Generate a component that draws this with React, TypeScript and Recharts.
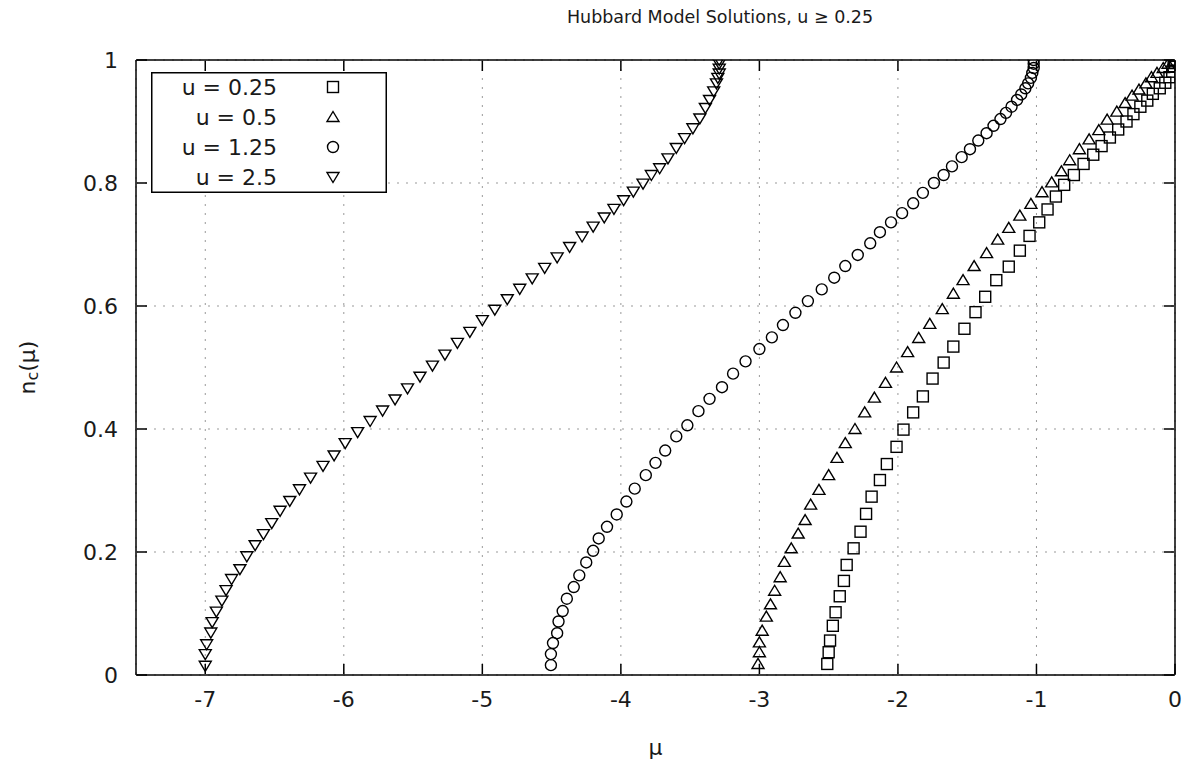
import React from 'react';
import { ScatterChart, Scatter, XAxis, YAxis, CartesianGrid, Legend } from 'recharts';

// ---------------------------------------------------------------------------
// Data: [mu, n_c] pairs
// ---------------------------------------------------------------------------

const U025: Array<[number, number]> = [
  [-2.51, 0.018], [-2.5, 0.037], [-2.49, 0.056], [-2.47, 0.08], [-2.45, 0.102],
  [-2.42, 0.128], [-2.39, 0.153], [-2.37, 0.179], [-2.32, 0.206], [-2.27, 0.233],
  [-2.23, 0.262], [-2.19, 0.29], [-2.13, 0.317], [-2.08, 0.343], [-2.01, 0.371],
  [-1.96, 0.399], [-1.89, 0.427], [-1.82, 0.453], [-1.75, 0.482], [-1.67, 0.508],
  [-1.6, 0.534], [-1.52, 0.563], [-1.44, 0.59], [-1.37, 0.615], [-1.29, 0.642],
  [-1.2, 0.664], [-1.12, 0.69], [-1.05, 0.714], [-0.98, 0.736], [-0.92, 0.757],
  [-0.86, 0.778], [-0.8, 0.797], [-0.73, 0.813], [-0.66, 0.831], [-0.59, 0.846],
  [-0.53, 0.86], [-0.47, 0.874], [-0.41, 0.887], [-0.35, 0.9], [-0.3, 0.912],
  [-0.25, 0.924], [-0.2, 0.934], [-0.16, 0.945], [-0.11, 0.954], [-0.07, 0.963],
  [-0.04, 0.972], [-0.02, 0.981], [-0.01, 0.989], [0, 0.995], [0, 1.0],
];

const U05: Array<[number, number]> = [
  [-3.01, 0.018], [-3.0, 0.037], [-3.0, 0.053], [-2.98, 0.072], [-2.95, 0.095],
  [-2.92, 0.115], [-2.89, 0.137], [-2.85, 0.159], [-2.82, 0.184], [-2.77, 0.206],
  [-2.72, 0.23], [-2.67, 0.252], [-2.63, 0.277], [-2.57, 0.301], [-2.5, 0.325],
  [-2.44, 0.353], [-2.38, 0.377], [-2.31, 0.4], [-2.24, 0.427], [-2.17, 0.451],
  [-2.09, 0.475], [-2.01, 0.5], [-1.93, 0.525], [-1.85, 0.548], [-1.77, 0.571],
  [-1.68, 0.595], [-1.6, 0.62], [-1.53, 0.642], [-1.45, 0.665], [-1.36, 0.686],
  [-1.28, 0.708], [-1.2, 0.727], [-1.12, 0.747], [-1.04, 0.766], [-0.96, 0.785],
  [-0.89, 0.801], [-0.82, 0.819], [-0.76, 0.837], [-0.69, 0.855], [-0.62, 0.871],
  [-0.55, 0.886], [-0.49, 0.903], [-0.42, 0.916], [-0.36, 0.93], [-0.31, 0.942],
  [-0.26, 0.952], [-0.21, 0.962], [-0.17, 0.972], [-0.13, 0.979], [-0.085, 0.987],
  [-0.05, 0.994], [-0.01, 0.999],
];

const U125: Array<[number, number]> = [
  [-4.505, 0.016], [-4.505, 0.034], [-4.49, 0.052], [-4.46, 0.068], [-4.45, 0.087],
  [-4.42, 0.104], [-4.39, 0.124], [-4.34, 0.143], [-4.3, 0.162], [-4.25, 0.183],
  [-4.2, 0.202], [-4.16, 0.222], [-4.1, 0.241], [-4.03, 0.261], [-3.96, 0.282],
  [-3.9, 0.303], [-3.82, 0.325], [-3.75, 0.345], [-3.68, 0.365], [-3.6, 0.388],
  [-3.52, 0.406], [-3.44, 0.429], [-3.36, 0.449], [-3.27, 0.468], [-3.19, 0.49],
  [-3.1, 0.51], [-3.0, 0.53], [-2.91, 0.549], [-2.83, 0.569], [-2.74, 0.589],
  [-2.65, 0.608], [-2.55, 0.627], [-2.46, 0.646], [-2.38, 0.665], [-2.29, 0.683],
  [-2.2, 0.702], [-2.13, 0.72], [-2.05, 0.736], [-1.97, 0.751], [-1.89, 0.767],
  [-1.82, 0.784], [-1.74, 0.8], [-1.67, 0.813], [-1.61, 0.827], [-1.54, 0.842],
  [-1.48, 0.855], [-1.42, 0.869], [-1.36, 0.881], [-1.31, 0.893], [-1.26, 0.904],
  [-1.22, 0.914], [-1.18, 0.924], [-1.14, 0.935], [-1.11, 0.944], [-1.08, 0.954],
  [-1.06, 0.962], [-1.04, 0.971], [-1.03, 0.979], [-1.02, 0.987], [-1.02, 0.994],
  [-1.02, 1.0],
];

const U25: Array<[number, number]> = [
  [-7.0, 0.015], [-7.0, 0.034], [-6.99, 0.05], [-6.96, 0.069], [-6.95, 0.086],
  [-6.92, 0.103], [-6.88, 0.121], [-6.85, 0.138], [-6.81, 0.156], [-6.75, 0.172],
  [-6.7, 0.193], [-6.64, 0.211], [-6.58, 0.229], [-6.52, 0.247], [-6.46, 0.267],
  [-6.39, 0.283], [-6.32, 0.302], [-6.24, 0.321], [-6.15, 0.34], [-6.07, 0.357],
  [-5.99, 0.377], [-5.9, 0.395], [-5.81, 0.413], [-5.72, 0.43], [-5.63, 0.448],
  [-5.54, 0.466], [-5.45, 0.485], [-5.36, 0.503], [-5.27, 0.521], [-5.18, 0.54],
  [-5.09, 0.558], [-5.0, 0.577], [-4.91, 0.594], [-4.82, 0.611], [-4.73, 0.628],
  [-4.64, 0.645], [-4.55, 0.662], [-4.46, 0.679], [-4.37, 0.696], [-4.28, 0.713],
  [-4.2, 0.729], [-4.12, 0.744], [-4.05, 0.758], [-3.98, 0.772], [-3.91, 0.786],
  [-3.84, 0.799], [-3.78, 0.813], [-3.72, 0.824], [-3.66, 0.84], [-3.6, 0.857],
  [-3.54, 0.873], [-3.48, 0.889], [-3.43, 0.905], [-3.39, 0.922], [-3.36, 0.935],
  [-3.33, 0.949], [-3.31, 0.962], [-3.3, 0.971], [-3.29, 0.978], [-3.29, 0.986],
  [-3.29, 0.994], [-3.29, 1.0],
];

const X_TICKS = [-7, -6, -5, -4, -3, -2, -1, 0];
const Y_TICKS = [0, 0.2, 0.4, 0.6, 0.8, 1];

type Kind = 'square' | 'up' | 'circle' | 'down';

const SERIES: Array<{ name: string; kind: Kind; points: Array<[number, number]> }> = [
  { name: 'u = 0.25', kind: 'square', points: U025 },
  { name: 'u = 0.5', kind: 'up', points: U05 },
  { name: 'u = 1.25', kind: 'circle', points: U125 },
  { name: 'u = 2.5', kind: 'down', points: U25 },
];

const FONT = '"DejaVu Sans", sans-serif';
const INK = '#000';
const TEXT = '#1a1a1a';
const TICK_LEN = 10;

// ---------------------------------------------------------------------------
// Markers / ticks
// ---------------------------------------------------------------------------

const Marker = ({ cx, cy, kind }: { cx: number; cy: number; kind: Kind }) => {
  const common = { fill: 'none', stroke: INK, strokeWidth: 1.4 };
  if (kind === 'square') return <rect x={cx - 5.5} y={cy - 5.5} width={11} height={11} {...common} />;
  if (kind === 'circle') return <circle cx={cx} cy={cy} r={5.5} {...common} />;
  if (kind === 'up')
    return <polygon points={`${cx},${cy - 5.5} ${cx + 6},${cy + 4.5} ${cx - 6},${cy + 4.5}`} {...common} />;
  return <polygon points={`${cx},${cy + 5.5} ${cx + 6},${cy - 4.5} ${cx - 6},${cy - 4.5}`} {...common} />;
};

// axis boxes are 1px thick, tick x/y lands on the outer side of the axis line
const BottomTick = ({ x, y, payload }: any) => (
  <g>
    <line x1={x} x2={x} y1={y - 1} y2={y - 1 - TICK_LEN} stroke={INK} strokeWidth={1.5} />
    <text x={x} y={y + 32} textAnchor="middle" fontFamily={FONT} fontSize={22} fill={TEXT}>
      {payload.value}
    </text>
  </g>
);

const TopTick = ({ x, y }: any) => (
  <line x1={x} x2={x} y1={y + 1} y2={y + 1 + TICK_LEN} stroke={INK} strokeWidth={1.5} />
);

const LeftTick = ({ x, y, payload }: any) => (
  <g>
    <line x1={x + 1} x2={x + 1 + TICK_LEN} y1={y} y2={y} stroke={INK} strokeWidth={1.5} />
    <text x={x - 18} y={y + 8} textAnchor="end" fontFamily={FONT} fontSize={22} fill={TEXT}>
      {payload.value}
    </text>
  </g>
);

const RightTick = ({ x, y }: any) => (
  <line x1={x - 1} x2={x - 1 - TICK_LEN} y1={y} y2={y} stroke={INK} strokeWidth={1.5} />
);

const XLabel = ({ viewBox }: any) => (
  <text
    x={viewBox.x + viewBox.width / 2}
    y={viewBox.y + 80}
    textAnchor="middle"
    fontFamily={FONT}
    fontSize={22}
    fill={TEXT}
  >
    μ
  </text>
);

const YLabel = ({ viewBox }: any) => {
  const cx = 27;
  const cy = viewBox.y + viewBox.height / 2;
  return (
    <text
      x={cx}
      y={cy}
      transform={`rotate(-90, ${cx}, ${cy})`}
      textAnchor="middle"
      dominantBaseline="central"
      fontFamily={FONT}
      fontSize={22}
      fill={TEXT}
    >
      n<tspan dy={5} fontSize={16}>c</tspan>
      <tspan dy={-5}>(μ)</tspan>
    </text>
  );
};

const LegendBox = () => (
  <svg width={236} height={121} style={{ display: 'block' }}>
    <rect x={0.75} y={0.75} width={234.5} height={119.5} fill="#fff" stroke={INK} strokeWidth={1.5} />
    {SERIES.map((s, i) => (
      <g key={s.name}>
        <text x={126} y={15 + i * 30 + 8} textAnchor="end" fontFamily={FONT} fontSize={22} fill={TEXT}>
          {s.name}
        </text>
        <Marker cx={182} cy={15 + i * 30} kind={s.kind} />
      </g>
    ))}
  </svg>
);

// ---------------------------------------------------------------------------
// Component
// ---------------------------------------------------------------------------

const App: React.FC = () => (
  <div style={{ position: 'relative', width: 1190, height: 771, background: '#fff' }}>
    <style>{'body { margin: 0; }'}</style>
    <div
      style={{
        position: 'absolute',
        top: 7,
        left: 0,
        width: 1440,
        textAlign: 'center',
        fontFamily: FONT,
        fontSize: 17.5,
        color: TEXT,
      }}
    >
      Hubbard Model Solutions, u ≥ 0.25
    </div>
    <ScatterChart width={1190} height={771} margin={{ top: 59, right: 14, bottom: 95, left: 135 }}>
      <CartesianGrid stroke="#999" strokeDasharray="2 7" />
      <XAxis
        type="number"
        dataKey="x"
        domain={[-7.5, 0]}
        ticks={X_TICKS}
        interval={0}
        allowDataOverflow
        height={1}
        tickSize={0}
        tickMargin={0}
        axisLine={{ stroke: INK, strokeWidth: 1.5 }}
        tick={<BottomTick />}
        label={<XLabel />}
      />
      <XAxis
        xAxisId="top"
        orientation="top"
        type="number"
        dataKey="x"
        domain={[-7.5, 0]}
        ticks={X_TICKS}
        interval={0}
        allowDataOverflow
        height={1}
        tickSize={0}
        tickMargin={0}
        axisLine={{ stroke: INK, strokeWidth: 1.5 }}
        tick={<TopTick />}
      />
      <YAxis
        type="number"
        dataKey="y"
        domain={[0, 1]}
        ticks={Y_TICKS}
        interval={0}
        allowDataOverflow
        width={1}
        tickSize={0}
        tickMargin={0}
        axisLine={{ stroke: INK, strokeWidth: 1.5 }}
        tick={<LeftTick />}
        label={<YLabel />}
      />
      <YAxis
        yAxisId="right"
        orientation="right"
        type="number"
        dataKey="y"
        domain={[0, 1]}
        ticks={Y_TICKS}
        interval={0}
        allowDataOverflow
        width={1}
        tickSize={0}
        tickMargin={0}
        axisLine={{ stroke: INK, strokeWidth: 1.5 }}
        tick={<RightTick />}
      />
      {SERIES.map((s) => (
        <Scatter
          key={s.name}
          name={s.name}
          data={s.points.map(([x, y]) => ({ x, y }))}
          isAnimationActive={false}
          shape={(p: any) => <Marker cx={p.cx} cy={p.cy} kind={s.kind} />}
        />
      ))}
      <Legend
        layout="horizontal"
        verticalAlign="middle"
        align="center"
        wrapperStyle={{ left: 151, top: 72, width: 236, height: 121 }}
        content={() => <LegendBox />}
      />
    </ScatterChart>
  </div>
);

export default App;
